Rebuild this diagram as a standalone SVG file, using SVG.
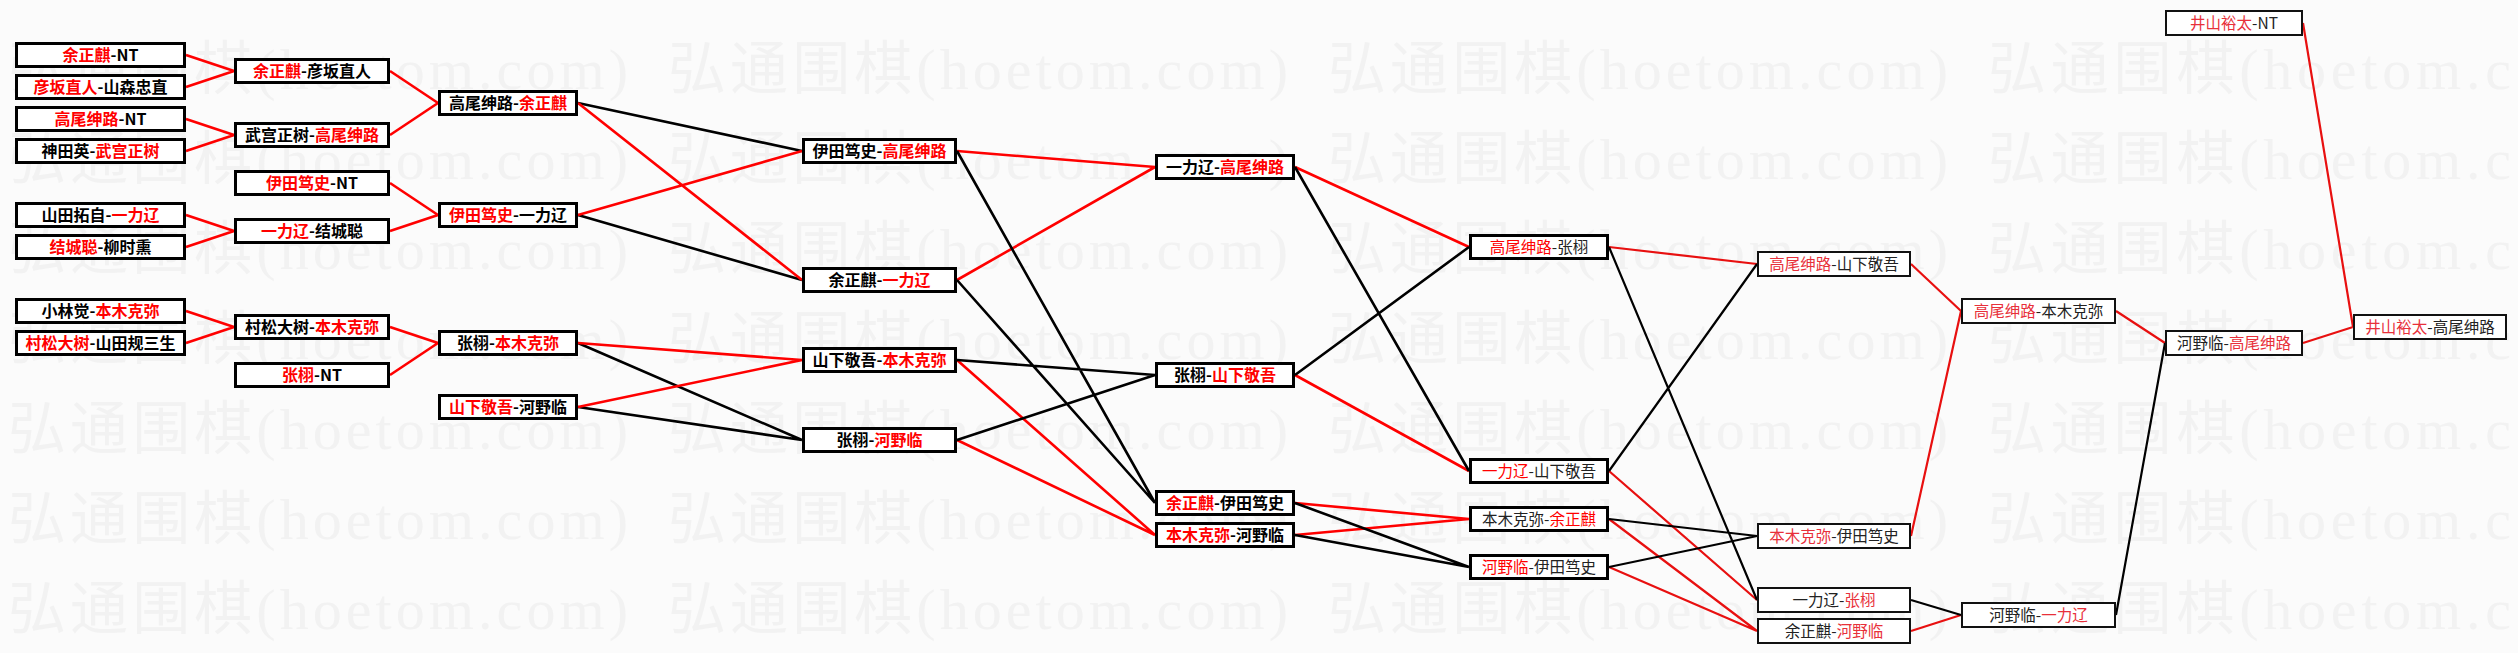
<svg xmlns="http://www.w3.org/2000/svg" width="2518" height="653" viewBox="0 0 2518 653">
<style>
.wm{font-family:"Liberation Serif","Noto Sans CJK SC",serif;font-size:58px;fill:#f2f2f2}
.bx{fill:#fff;stroke:#000;stroke-width:3}
.bt{fill:#fff;stroke:#111;stroke-width:2}
.t{font-family:"Noto Sans CJK SC","Noto Sans",sans-serif;font-size:16px;font-weight:bold;fill:#000;text-anchor:middle}
.tt{font-family:"Noto Sans CJK SC","Noto Sans",sans-serif;font-size:15.5px;fill:#222;text-anchor:middle}
.r{fill:#f00}
.rt{fill:#e8303a}
.lr{stroke:#f00;stroke-width:2.6;fill:none}
.lk{stroke:#000;stroke-width:2.6;fill:none}
.lr2{stroke:#e81010;stroke-width:2.2;fill:none}
.lk2{stroke:#000;stroke-width:2.2;fill:none}
</style>
<rect width="2518" height="653" fill="#fbfbfb"/>
<g id="watermark">
<text class="wm" x="8" y="89" textLength="620">弘通围棋(hoetom.com)</text><text class="wm" x="668" y="89" textLength="620">弘通围棋(hoetom.com)</text><text class="wm" x="1328" y="89" textLength="620">弘通围棋(hoetom.com)</text><text class="wm" x="1988" y="89" textLength="523">弘通围棋(hoetom.c</text>
<text class="wm" x="8" y="179" textLength="620">弘通围棋(hoetom.com)</text><text class="wm" x="668" y="179" textLength="620">弘通围棋(hoetom.com)</text><text class="wm" x="1328" y="179" textLength="620">弘通围棋(hoetom.com)</text><text class="wm" x="1988" y="179" textLength="523">弘通围棋(hoetom.c</text>
<text class="wm" x="8" y="269" textLength="620">弘通围棋(hoetom.com)</text><text class="wm" x="668" y="269" textLength="620">弘通围棋(hoetom.com)</text><text class="wm" x="1328" y="269" textLength="620">弘通围棋(hoetom.com)</text><text class="wm" x="1988" y="269" textLength="523">弘通围棋(hoetom.c</text>
<text class="wm" x="8" y="359" textLength="620">弘通围棋(hoetom.com)</text><text class="wm" x="668" y="359" textLength="620">弘通围棋(hoetom.com)</text><text class="wm" x="1328" y="359" textLength="620">弘通围棋(hoetom.com)</text><text class="wm" x="1988" y="359" textLength="523">弘通围棋(hoetom.c</text>
<text class="wm" x="8" y="449" textLength="620">弘通围棋(hoetom.com)</text><text class="wm" x="668" y="449" textLength="620">弘通围棋(hoetom.com)</text><text class="wm" x="1328" y="449" textLength="620">弘通围棋(hoetom.com)</text><text class="wm" x="1988" y="449" textLength="523">弘通围棋(hoetom.c</text>
<text class="wm" x="8" y="539" textLength="620">弘通围棋(hoetom.com)</text><text class="wm" x="668" y="539" textLength="620">弘通围棋(hoetom.com)</text><text class="wm" x="1328" y="539" textLength="620">弘通围棋(hoetom.com)</text><text class="wm" x="1988" y="539" textLength="523">弘通围棋(hoetom.c</text>
<text class="wm" x="8" y="629" textLength="620">弘通围棋(hoetom.com)</text><text class="wm" x="668" y="629" textLength="620">弘通围棋(hoetom.com)</text><text class="wm" x="1328" y="629" textLength="620">弘通围棋(hoetom.com)</text><text class="wm" x="1988" y="629" textLength="523">弘通围棋(hoetom.c</text>
</g>
<g id="connectors">
<path class="lr" d="M186 55L234 71M186 87L234 71M186 119L234 135M186 151L234 135M186 215L234 231M186 247L234 231M186 311L234 327M186 343L234 327"/>
<path class="lr" d="M390 71L438 103M390 135L438 103M390 183L438 215M390 231L438 215M390 327L438 343M390 375L438 343"/>
<path class="lk" d="M578 103L802 151M578 215L802 280M578 343L802 440M578 407L802 440"/>
<path class="lr" d="M578 103L802 280M578 215L802 151M578 343L802 360M578 407L802 360"/>
<path class="lr" d="M957 151L1155 167M957 280L1155 167M957 360L1155 535M957 440L1155 535"/>
<path class="lk" d="M957 151L1155 503M957 280L1155 503M957 360L1155 375M957 440L1155 375"/>
<path class="lr" d="M1295 167L1469 247M1295 375L1469 471M1295 503L1469 519M1295 535L1469 519"/>
<path class="lk" d="M1295 167L1469 471M1295 375L1469 247M1295 503L1469 567M1295 535L1469 567"/>
<path class="lr2" d="M1609 247L1757 264M1609 471L1757 600M1609 519L1757 631M1609 567L1757 631"/>
<path class="lk2" d="M1609 247L1757 600M1609 471L1757 264M1609 519L1757 536M1609 567L1757 536"/>
<path class="lr2" d="M1911 264L1961 311M1911 536L1961 311M1911 631L1961 615M2116 311L2165 343M2303 23L2353 327M2303 343L2353 327"/>
<path class="lk2" d="M1911 600L1961 615M2116 615L2165 343"/>
</g>
<g id="A1"><rect class="bx" x="16.5" y="43.5" width="168" height="23"/><text class="t" x="100.5" y="61"><tspan class="r">余正麒</tspan>-NT</text></g>
<g id="A2"><rect class="bx" x="16.5" y="75.5" width="168" height="23"/><text class="t" x="100.5" y="93"><tspan class="r">彦坂直人</tspan>-山森忠直</text></g>
<g id="A3"><rect class="bx" x="16.5" y="107.5" width="168" height="23"/><text class="t" x="100.5" y="125"><tspan class="r">高尾绅路</tspan>-NT</text></g>
<g id="A4"><rect class="bx" x="16.5" y="139.5" width="168" height="23"/><text class="t" x="100.5" y="157">神田英-<tspan class="r">武宫正树</tspan></text></g>
<g id="A5"><rect class="bx" x="16.5" y="203.5" width="168" height="23"/><text class="t" x="100.5" y="221">山田拓自-<tspan class="r">一力辽</tspan></text></g>
<g id="A6"><rect class="bx" x="16.5" y="235.5" width="168" height="23"/><text class="t" x="100.5" y="253"><tspan class="r">结城聪</tspan>-柳时熏</text></g>
<g id="A7"><rect class="bx" x="16.5" y="299.5" width="168" height="23"/><text class="t" x="100.5" y="317">小林觉-<tspan class="r">本木克弥</tspan></text></g>
<g id="A8"><rect class="bx" x="16.5" y="331.5" width="168" height="23"/><text class="t" x="100.5" y="349"><tspan class="r">村松大树</tspan>-山田规三生</text></g>
<g id="B1"><rect class="bx" x="235.5" y="59.5" width="153" height="23"/><text class="t" x="312" y="77"><tspan class="r">余正麒</tspan>-彦坂直人</text></g>
<g id="B2"><rect class="bx" x="235.5" y="123.5" width="153" height="23"/><text class="t" x="312" y="141">武宫正树-<tspan class="r">高尾绅路</tspan></text></g>
<g id="B3"><rect class="bx" x="235.5" y="171.5" width="153" height="23"/><text class="t" x="312" y="189"><tspan class="r">伊田笃史</tspan>-NT</text></g>
<g id="B4"><rect class="bx" x="235.5" y="219.5" width="153" height="23"/><text class="t" x="312" y="237"><tspan class="r">一力辽</tspan>-结城聪</text></g>
<g id="B5"><rect class="bx" x="235.5" y="315.5" width="153" height="23"/><text class="t" x="312" y="333">村松大树-<tspan class="r">本木克弥</tspan></text></g>
<g id="B6"><rect class="bx" x="235.5" y="363.5" width="153" height="23"/><text class="t" x="312" y="381"><tspan class="r">张栩</tspan>-NT</text></g>
<g id="C1"><rect class="bx" x="439.5" y="91.5" width="137" height="23"/><text class="t" x="508" y="109">高尾绅路-<tspan class="r">余正麒</tspan></text></g>
<g id="C2"><rect class="bx" x="439.5" y="203.5" width="137" height="23"/><text class="t" x="508" y="221"><tspan class="r">伊田笃史</tspan>-一力辽</text></g>
<g id="C3"><rect class="bx" x="439.5" y="331.5" width="137" height="23"/><text class="t" x="508" y="349">张栩-<tspan class="r">本木克弥</tspan></text></g>
<g id="C4"><rect class="bx" x="439.5" y="395.5" width="137" height="23"/><text class="t" x="508" y="413"><tspan class="r">山下敬吾</tspan>-河野临</text></g>
<g id="D1"><rect class="bx" x="803.5" y="139.5" width="152" height="23"/><text class="t" x="879.5" y="157">伊田笃史-<tspan class="r">高尾绅路</tspan></text></g>
<g id="D2"><rect class="bx" x="803.5" y="268.5" width="152" height="23"/><text class="t" x="879.5" y="286">余正麒-<tspan class="r">一力辽</tspan></text></g>
<g id="D3"><rect class="bx" x="803.5" y="348.5" width="152" height="23"/><text class="t" x="879.5" y="366">山下敬吾-<tspan class="r">本木克弥</tspan></text></g>
<g id="D4"><rect class="bx" x="803.5" y="428.5" width="152" height="23"/><text class="t" x="879.5" y="446">张栩-<tspan class="r">河野临</tspan></text></g>
<g id="E1"><rect class="bx" x="1156.5" y="155.5" width="137" height="23"/><text class="t" x="1225" y="173">一力辽-<tspan class="r">高尾绅路</tspan></text></g>
<g id="E2"><rect class="bx" x="1156.5" y="363.5" width="137" height="23"/><text class="t" x="1225" y="381">张栩-<tspan class="r">山下敬吾</tspan></text></g>
<g id="E3"><rect class="bx" x="1156.5" y="491.5" width="137" height="23"/><text class="t" x="1225" y="509"><tspan class="r">余正麒</tspan>-伊田笃史</text></g>
<g id="E4"><rect class="bx" x="1156.5" y="523.5" width="137" height="23"/><text class="t" x="1225" y="541"><tspan class="r">本木克弥</tspan>-河野临</text></g>
<g id="F1"><rect class="bx" x="1470.5" y="235.5" width="137" height="23"/><text class="tt" x="1539" y="253"><tspan class="r">高尾绅路</tspan>-张栩</text></g>
<g id="F2"><rect class="bx" x="1470.5" y="459.5" width="137" height="23"/><text class="tt" x="1539" y="477"><tspan class="r">一力辽</tspan>-山下敬吾</text></g>
<g id="F3"><rect class="bx" x="1470.5" y="507.5" width="137" height="23"/><text class="tt" x="1539" y="525">本木克弥-<tspan class="r">余正麒</tspan></text></g>
<g id="F4"><rect class="bx" x="1470.5" y="555.5" width="137" height="23"/><text class="tt" x="1539" y="573"><tspan class="r">河野临</tspan>-伊田笃史</text></g>
<g id="G1"><rect class="bt" x="1758" y="252" width="152" height="24"/><text class="tt" x="1834" y="270"><tspan class="rt">高尾绅路</tspan>-山下敬吾</text></g>
<g id="G2"><rect class="bt" x="1758" y="524" width="152" height="24"/><text class="tt" x="1834" y="542"><tspan class="rt">本木克弥</tspan>-伊田笃史</text></g>
<g id="G3"><rect class="bt" x="1758" y="588" width="152" height="24"/><text class="tt" x="1834" y="606">一力辽-<tspan class="rt">张栩</tspan></text></g>
<g id="G4"><rect class="bt" x="1758" y="619" width="152" height="24"/><text class="tt" x="1834" y="637">余正麒-<tspan class="rt">河野临</tspan></text></g>
<g id="H1"><rect class="bt" x="1962" y="299" width="153" height="24"/><text class="tt" x="2038.5" y="317"><tspan class="rt">高尾绅路</tspan>-本木克弥</text></g>
<g id="H2"><rect class="bt" x="1962" y="603" width="153" height="24"/><text class="tt" x="2038.5" y="621">河野临-<tspan class="rt">一力辽</tspan></text></g>
<g id="I1"><rect class="bt" x="2166" y="11" width="136" height="24"/><text class="tt" x="2234" y="29"><tspan class="rt">井山裕太</tspan>-NT</text></g>
<g id="I2"><rect class="bt" x="2166" y="331" width="136" height="24"/><text class="tt" x="2234" y="349">河野临-<tspan class="rt">高尾绅路</tspan></text></g>
<g id="J1"><rect class="bt" x="2354" y="315" width="152" height="24"/><text class="tt" x="2430" y="333"><tspan class="rt">井山裕太</tspan>-高尾绅路</text></g>
</svg>
